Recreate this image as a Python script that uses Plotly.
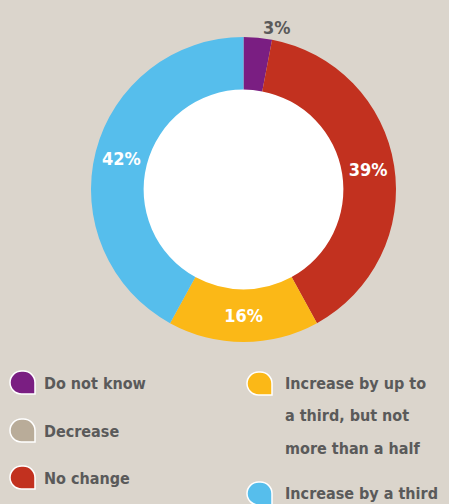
import plotly.graph_objects as go

# ---- data ----
categories = ["Do not know", "Decrease", "No change",
              "Increase by up to a third, but not more than a half",
              "Increase by a third"]
values = [3, 0, 39, 16, 42]
colors = ["#7A1E82", "#B9AC99", "#C2311F", "#FBB817", "#56BEEC"]
label_text = [f"{v}%" if v else "" for v in values]
text_pos = ["outside", "none", "inside", "inside", "inside"]

legend_col1 = ["Do not know", "Decrease", "No change"]
legend_col1_colors = ["#7A1E82", "#B9AC99", "#C2311F"]
legend_col2 = [["Increase by up to", "a third, but not", "more than a half"],
               ["Increase by a third"]]
legend_col2_colors = ["#FBB817", "#56BEEC"]

W, H = 449, 504
BG = "#DBD5CC"
GREY = "#5A5A5A"
FONT = "DejaVu Sans Condensed, DejaVu Sans, sans-serif"

fig = go.Figure()

cx, cy, R = 243.5, 189.5, 152.5
HOLE = 0.655
fig.add_trace(go.Pie(
    labels=categories, values=values, sort=False, direction="clockwise",
    rotation=0, hole=HOLE,
    marker=dict(colors=colors, line=dict(width=0)),
    text=label_text, textinfo="text", textposition=text_pos,
    insidetextorientation="horizontal",
    insidetextfont=dict(color="white", size=18, family=FONT, weight="bold"),
    outsidetextfont=dict(color=GREY, size=18, family=FONT, weight="bold"),
    showlegend=False, hoverinfo="label+percent",
    domain=dict(x=[(cx - R) / W, (cx + R) / W],
                y=[(H - cy - R) / H, (H - cy + R) / H]),
))

# helper axis covering the full figure in pixel units for legend
fig.update_layout(
    xaxis=dict(range=[0, W], visible=False, fixedrange=True),
    yaxis=dict(range=[H, 0], visible=False, fixedrange=True),
)
fig.add_trace(go.Scatter(x=[0, W], y=[0, H], mode="markers",
                         marker=dict(opacity=0), showlegend=False,
                         hoverinfo="skip"))


def drop_path(x0, y0, w=25, h=23):
    r = h / 2
    k = 0.5523 * r
    x1, y1 = x0 + w, y0 + h
    return (f"M {x0+r},{y0} L {x1-r},{y0} "
            f"C {x1-r+k},{y0} {x1},{y0+r-k} {x1},{y0+r} "
            f"L {x1},{y1} L {x0+r},{y1} "
            f"C {x0+r-k},{y1} {x0},{y1-r+k} {x0},{y1-r} "
            f"L {x0},{y0+r} C {x0},{y0+r-k} {x0+r-k},{y0} {x0+r},{y0} Z")


ri = R * HOLE
shapes = [dict(type="circle", xref="x", yref="y", layer="below",
               x0=cx - ri - 1, x1=cx + ri + 1, y0=cy - ri - 1, y1=cy + ri + 1,
               fillcolor="white", line=dict(width=0))]
annotations = []
LFS = 16
col1_rows = [383, 431, 478]
for name, col, yc in zip(legend_col1, legend_col1_colors, col1_rows):
    shapes.append(dict(type="path", path=drop_path(10, yc - 12), xref="x", yref="y",
                       fillcolor=col, line=dict(color="white", width=1.5)))
    annotations.append(dict(x=42, y=yc, xref="x", yref="y", text=name,
                            showarrow=False, xanchor="left", yanchor="middle",
                            font=dict(size=LFS, color=GREY, family=FONT, weight="bold")))

col2_rows = [[383, 415, 448], [493]]
for lines, col, ys in zip(legend_col2, legend_col2_colors, col2_rows):
    shapes.append(dict(type="path", path=drop_path(247, ys[0] - 11), xref="x", yref="y",
                       fillcolor=col, line=dict(color="white", width=1.5)))
    for line, yc in zip(lines, ys):
        annotations.append(dict(x=283, y=yc, xref="x", yref="y", text=line,
                                showarrow=False, xanchor="left", yanchor="middle",
                                font=dict(size=LFS, color=GREY, family=FONT, weight="bold")))

fig.update_layout(
    width=W, height=H,
    margin=dict(l=0, r=0, t=0, b=0),
    paper_bgcolor=BG, plot_bgcolor=BG,
    shapes=shapes, annotations=annotations,
    font=dict(family=FONT, color=GREY),
)

fig.write_html("out.html")
